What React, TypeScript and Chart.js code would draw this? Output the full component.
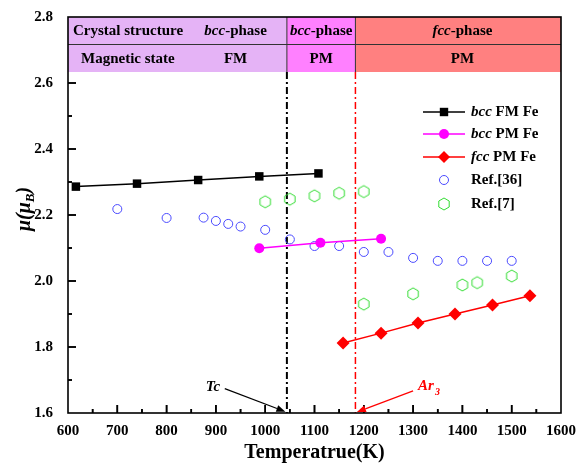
import React, { useEffect, useRef } from 'react';
import { Chart, registerables } from 'chart.js';
Chart.register(...registerables);

// ---- data ----
const bccFmT = [616, 740, 864, 988, 1108];
const bccFmMu = [2.286, 2.295, 2.306, 2.317, 2.326];
const bccPmT = [988, 1112, 1235];
const bccPmMu = [2.099, 2.116, 2.128];
const fccPmT = [1158, 1235, 1310, 1385, 1461, 1537];
const fccPmMu = [1.812, 1.842, 1.873, 1.900, 1.927, 1.955];
const ref36T = [700, 800, 875, 900, 925, 950, 1000, 1050, 1100, 1150, 1200, 1250, 1300, 1350, 1400, 1450, 1500];
const ref36Mu = [2.218, 2.191, 2.192, 2.182, 2.173, 2.165, 2.155, 2.126, 2.106, 2.106, 2.088, 2.088, 2.070, 2.061, 2.061, 2.061, 2.061];
const ref7T = [1000, 1050, 1100, 1150, 1200, 1200, 1300, 1400, 1430, 1500];
const ref7Mu = [2.240, 2.248, 2.258, 2.266, 2.271, 1.930, 1.961, 1.988, 1.995, 2.015];
const TC = 1044;
const AR3 = 1183;
const xMin = 600, xMax = 1600, xStep = 100;
const yMin = 1.6, yMax = 2.8, yStep = 0.2;
const xMinorTicks = [650, 700, 750, 800, 850, 900, 950, 1000, 1050, 1100, 1150, 1200, 1250, 1300, 1350, 1400, 1450, 1500, 1550];
const yMinorTicks = [1.7, 1.8, 1.9, 2.0, 2.1, 2.2, 2.3, 2.4, 2.5, 2.6];

const FONT = '"Liberation Serif", "Times New Roman", serif';

function pts(xs: number[], ys: number[]) {
  return xs.map((x, i) => ({ x, y: ys[i] }));
}

function hexCanvas(r: number, color: string) {
  const s = Math.ceil(r * 2 + 4);
  const c = document.createElement('canvas');
  c.width = s; c.height = s;
  const g = c.getContext('2d')!;
  g.strokeStyle = color; g.lineWidth = 1;
  g.beginPath();
  for (let k = 0; k < 6; k++) {
    const a = -Math.PI / 2 + (k * Math.PI) / 3;
    const px = s / 2 + r * Math.cos(a), py = s / 2 + r * Math.sin(a);
    if (k === 0) g.moveTo(px, py); else g.lineTo(px, py);
  }
  g.closePath(); g.stroke();
  return c;
}

type Part = [string, boolean];
function drawRich(ctx: CanvasRenderingContext2D, parts: Part[], x: number, y: number, size: number, align: 'left' | 'center', color: string) {
  ctx.save();
  ctx.fillStyle = color;
  ctx.textBaseline = 'middle';
  ctx.textAlign = 'left';
  let w = 0;
  for (const [t, it] of parts) { ctx.font = `${it ? 'italic ' : ''}bold ${size}px ${FONT}`; w += ctx.measureText(t).width; }
  let cx = align === 'center' ? x - w / 2 : x;
  for (const [t, it] of parts) { ctx.font = `${it ? 'italic ' : ''}bold ${size}px ${FONT}`; ctx.fillText(t, cx, y); cx += ctx.measureText(t).width; }
  ctx.restore();
}

function arrow(ctx: CanvasRenderingContext2D, x1: number, y1: number, x2: number, y2: number, color: string) {
  ctx.save();
  ctx.strokeStyle = color; ctx.fillStyle = color; ctx.lineWidth = 1.2;
  const ang = Math.atan2(y2 - y1, x2 - x1);
  const hl = 9, hw = 3.5;
  const bx = x2 - hl * Math.cos(ang), by = y2 - hl * Math.sin(ang);
  ctx.beginPath(); ctx.moveTo(x1, y1); ctx.lineTo(bx, by); ctx.stroke();
  ctx.beginPath();
  ctx.moveTo(x2, y2);
  ctx.lineTo(bx + hw * Math.sin(ang), by - hw * Math.cos(ang));
  ctx.lineTo(bx - hw * Math.sin(ang), by + hw * Math.cos(ang));
  ctx.closePath(); ctx.fill();
  ctx.restore();
}

function drawTicks(chart: any) {
  const { ctx, chartArea: a, scales } = chart;
  const xs = scales.x, ys = scales.y;
  const tb = a.top + 55;
  ctx.save();
  ctx.setLineDash([]);
  ctx.strokeStyle = '#000000';
  ctx.lineWidth = 1.6;
  ctx.beginPath();
  for (const v of xMinorTicks) {
    const px = xs.getPixelForValue(v);
    const len = Math.round(v) % 100 === 0 ? 8 : 4;
    ctx.moveTo(px, a.bottom);
    ctx.lineTo(px, a.bottom - len);
  }
  for (const v of yMinorTicks) {
    const py = ys.getPixelForValue(v);
    if (py < tb + 2) continue;
    const len = Math.round(v * 10) % 2 === 0 ? 8 : 4;
    ctx.moveTo(a.left, py);
    ctx.lineTo(a.left + len, py);
  }
  ctx.stroke();
  ctx.restore();
}

const deco = {
  id: 'deco',
  beforeDatasetsDraw(chart: any) {
    const { ctx, chartArea: a, scales } = chart;
    const xs = scales.x;
    const xTc = xs.getPixelForValue(TC), xAr = xs.getPixelForValue(AR3);
    const tb = a.top + 55;
    ctx.save();
    ctx.fillStyle = '#e5b3f6'; ctx.fillRect(a.left, a.top, xTc - a.left, 55);
    ctx.fillStyle = '#ff80ff'; ctx.fillRect(xTc, a.top, xAr - xTc, 55);
    ctx.fillStyle = '#ff8080'; ctx.fillRect(xAr, a.top, a.right - xAr, 55);
    ctx.strokeStyle = '#333'; ctx.lineWidth = 1;
    ctx.beginPath();
    ctx.moveTo(a.left, a.top + 27.5); ctx.lineTo(a.right, a.top + 27.5);
    ctx.moveTo(xTc, a.top); ctx.lineTo(xTc, tb);
    ctx.moveTo(xAr, a.top); ctx.lineTo(xAr, tb);
    ctx.stroke();
    const r1 = a.top + 14, r2 = a.top + 42;
    drawRich(ctx, [['Crystal structure', false]], a.left + 5, r1, 15, 'left', '#000');
    drawRich(ctx, [['bcc', true], ['-phase', false]], xs.getPixelForValue(940), r1, 15, 'center', '#000');
    drawRich(ctx, [['Magnetic state', false]], a.left + 13, r2, 15, 'left', '#000');
    drawRich(ctx, [['FM', false]], xs.getPixelForValue(940), r2, 15, 'center', '#000');
    drawRich(ctx, [['bcc', true], ['-phase', false]], (xTc + xAr) / 2, r1, 15, 'center', '#000');
    drawRich(ctx, [['PM', false]], (xTc + xAr) / 2, r2, 15, 'center', '#000');
    drawRich(ctx, [['fcc', true], ['-phase', false]], xs.getPixelForValue(1400), r1, 15, 'center', '#000');
    drawRich(ctx, [['PM', false]], xs.getPixelForValue(1400), r2, 15, 'center', '#000');
    // vertical dash-dot lines
    ctx.setLineDash([7, 3, 2, 3]);
    ctx.strokeStyle = '#000'; ctx.lineWidth = 2;
    ctx.beginPath(); ctx.moveTo(xTc, tb); ctx.lineTo(xTc, a.bottom); ctx.stroke();
    ctx.strokeStyle = '#ff0000'; ctx.lineWidth = 1.5;
    ctx.beginPath(); ctx.moveTo(xAr, tb); ctx.lineTo(xAr, a.bottom); ctx.stroke();
    ctx.setLineDash([]);
    ctx.restore();
    drawTicks(chart);
  },
  afterDraw(chart: any) {
    const { ctx, chartArea: a, scales } = chart;
    const xs = scales.x, ys = scales.y;
    ctx.save();
    ctx.setLineDash([]);
    ctx.strokeStyle = '#000';
    ctx.lineWidth = 1.6;
    ctx.strokeRect(a.left, a.top, a.right - a.left, a.bottom - a.top);
    ctx.restore();
    drawTicks(chart);

    // legend
    const lx1 = a.left + 355, lx2 = a.left + 397, tx = a.left + 403;
    const rows = [112, 134, 157, 180, 204];
    const mx = (lx1 + lx2) / 2;
    ctx.save();
    ctx.strokeStyle = '#000'; ctx.lineWidth = 1.5;
    ctx.beginPath(); ctx.moveTo(lx1, rows[0]); ctx.lineTo(lx2, rows[0]); ctx.stroke();
    ctx.fillStyle = '#000'; ctx.fillRect(mx - 4.2, rows[0] - 4.2, 8.4, 8.4);
    ctx.strokeStyle = '#ff00ff';
    ctx.beginPath(); ctx.moveTo(lx1, rows[1]); ctx.lineTo(lx2, rows[1]); ctx.stroke();
    ctx.fillStyle = '#ff00ff'; ctx.beginPath(); ctx.arc(mx, rows[1], 5, 0, Math.PI * 2); ctx.fill();
    ctx.strokeStyle = '#ff0000';
    ctx.beginPath(); ctx.moveTo(lx1, rows[2]); ctx.lineTo(lx2, rows[2]); ctx.stroke();
    ctx.fillStyle = '#ff0000'; ctx.beginPath();
    ctx.moveTo(mx, rows[2] - 6); ctx.lineTo(mx + 6, rows[2]); ctx.lineTo(mx, rows[2] + 6); ctx.lineTo(mx - 6, rows[2]); ctx.closePath(); ctx.fill();
    ctx.strokeStyle = '#4a4aff'; ctx.lineWidth = 1;
    ctx.beginPath(); ctx.arc(mx, rows[3], 4.5, 0, Math.PI * 2); ctx.stroke();
    ctx.drawImage(hexCanvas(6, '#33dd33'), mx - 8, rows[4] - 8);
    ctx.restore();
    drawRich(ctx, [['bcc', true], [' FM Fe', false]], tx, rows[0], 15, 'left', '#000');
    drawRich(ctx, [['bcc', true], [' PM Fe', false]], tx, rows[1], 15, 'left', '#000');
    drawRich(ctx, [['fcc', true], [' PM Fe', false]], tx, rows[2], 15, 'left', '#000');
    drawRich(ctx, [['Ref.[36]', false]], tx, rows[3], 15, 'left', '#000');
    drawRich(ctx, [['Ref.[7]', false]], tx, rows[4], 15, 'left', '#000');

    // annotations
    drawRich(ctx, [['Tc', true]], xs.getPixelForValue(894), ys.getPixelForValue(1.679), 15, 'center', '#000');
    arrow(ctx, xs.getPixelForValue(918), ys.getPixelForValue(1.674), xs.getPixelForValue(TC - 3), ys.getPixelForValue(1.604), '#000');
    ctx.save();
    ctx.fillStyle = '#ff0000'; ctx.textBaseline = 'middle';
    ctx.font = `italic bold 15px ${FONT}`;
    const ax = xs.getPixelForValue(1300) + 5, ay = ys.getPixelForValue(1.682);
    ctx.fillText('Ar', ax, ay);
    const aw = ctx.measureText('Ar').width;
    ctx.font = `italic bold 10px ${FONT}`;
    ctx.fillText('3', ax + aw + 1, ay + 6);
    ctx.restore();
    arrow(ctx, xs.getPixelForValue(1300), ys.getPixelForValue(1.667), xs.getPixelForValue(AR3 + 3), ys.getPixelForValue(1.603), '#ff0000');

    // y title
    ctx.save();
    ctx.translate(23, 209);
    ctx.rotate(-Math.PI / 2);
    ctx.fillStyle = '#000'; ctx.textBaseline = 'alphabetic';
    const f1 = `italic bold 20px ${FONT}`, f2 = `italic bold 13px ${FONT}`;
    ctx.font = f1; const w1 = ctx.measureText('\u03bc(\u03bc').width;
    ctx.font = f2; const w2 = ctx.measureText('B').width;
    ctx.font = f1; const w3 = ctx.measureText(')').width;
    let cx = -(w1 + w2 + w3) / 2;
    const base = 7;
    ctx.font = f1; ctx.fillText('\u03bc(\u03bc', cx, base); cx += w1;
    ctx.font = f2; ctx.fillText('B', cx, base + 4); cx += w2;
    ctx.font = f1; ctx.fillText(')', cx, base);
    ctx.restore();
  },
};

export default function App() {
  const ref = useRef<HTMLCanvasElement>(null);
  useEffect(() => {
    const hex = hexCanvas(6, '#33dd33');
    const chart = new Chart(ref.current!, {
      type: 'scatter',
      data: {
        datasets: [
          { label: 'bcc FM Fe', data: pts(bccFmT, bccFmMu), showLine: true, borderColor: '#000', backgroundColor: '#000', borderWidth: 1.5, pointStyle: 'rect', pointRadius: 6, pointBorderWidth: 0 },
          { label: 'bcc PM Fe', data: pts(bccPmT, bccPmMu), showLine: true, borderColor: '#ff00ff', backgroundColor: '#ff00ff', borderWidth: 1.5, pointStyle: 'circle', pointRadius: 5, pointBorderWidth: 0 },
          { label: 'fcc PM Fe', data: pts(fccPmT, fccPmMu), showLine: true, borderColor: '#ff0000', backgroundColor: '#ff0000', borderWidth: 1.5, pointStyle: 'rectRot', pointRadius: 6.5, pointBorderWidth: 0 },
          { label: 'Ref.[36]', data: pts(ref36T, ref36Mu), showLine: false, borderColor: '#4a4aff', backgroundColor: 'rgba(0,0,0,0)', pointStyle: 'circle', pointRadius: 4.5, pointBorderWidth: 1 },
          { label: 'Ref.[7]', data: pts(ref7T, ref7Mu), showLine: false, borderColor: '#33dd33', backgroundColor: 'rgba(0,0,0,0)', pointStyle: hex as any, pointRadius: 6 },
        ],
      },
      options: {
        responsive: false,
        animation: false,
        devicePixelRatio: 1,
        layout: { padding: { top: 17, right: 16, left: 0, bottom: 0 } },
        plugins: { legend: { display: false }, tooltip: { enabled: false } },
        scales: {
          x: {
            type: 'linear', min: xMin, max: xMax,
            grid: { display: false, drawTicks: false },
            border: { display: false },
            ticks: { stepSize: xStep, padding: 9, color: '#000', font: { family: FONT, size: 15, weight: 'bold' }, maxRotation: 0, callback: (v: any) => String(Math.round(Number(v))) },
            title: { display: true, text: 'Temperatrue(K)', color: '#000', font: { family: FONT, size: 20, weight: 'bold' }, padding: { top: 0, bottom: 2 } },
            afterFit: (s: any) => { s.height = 54; s.paddingLeft = 0; s.paddingRight = 0; },
          },
          y: {
            type: 'linear', min: yMin, max: yMax,
            grid: { display: false, drawTicks: false },
            border: { display: false },
            ticks: { stepSize: yStep, padding: 15, color: '#000', font: { family: FONT, size: 15, weight: 'bold' }, callback: (v: any) => Number(v).toFixed(1) },
            afterFit: (s: any) => { s.width = 68; s.paddingTop = 0; s.paddingBottom = 0; },
          },
        },
      },
      plugins: [deco],
    } as any);
    return () => chart.destroy();
  }, []);
  return (
    <div style={{ position: 'fixed', left: 0, top: 0, width: 577, height: 467, background: '#fff' }}>
      <canvas ref={ref} width={577} height={467} style={{ display: 'block' }} />
    </div>
  );
}
